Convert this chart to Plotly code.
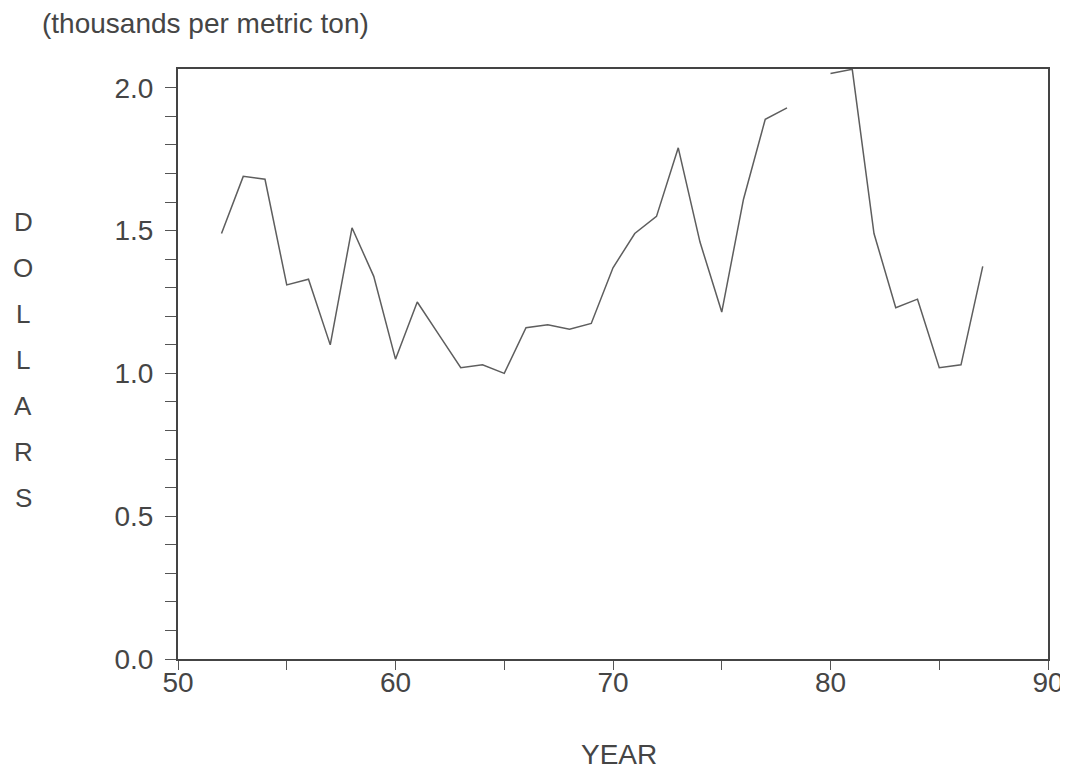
import plotly.graph_objects as go

years = list(range(52, 88))
dollars = [1.49, 1.69, 1.68, 1.31, 1.33, 1.10, 1.51, 1.34, 1.05, 1.25,
           1.135, 1.02, 1.03, 1.00, 1.16, 1.17, 1.155, 1.175, 1.37, 1.49,
           1.55, 1.79, 1.46, 1.215, 1.61, 1.89, 1.93, None, 2.05, 2.065,
           1.49, 1.23, 1.26, 1.02, 1.03, 1.375]

y_title_letters = list("DOLLARS")
title_text = "(thousands per metric ton)"
x_title = "YEAR"

FONT = "Liberation Sans, Arial, Helvetica, sans-serif"
TXT = "#454545"

# page body has an 8px margin
OFF = 8
W, H = 1068, 774 - OFF
L, T = 178 - OFF, 69 - OFF
plot_right, plot_bottom = 1048 - OFF, 659 - OFF
R, B = W - plot_right, H - plot_bottom
pw, ph = plot_right - L, plot_bottom - T


def paper(sx, sy):
    return (sx - OFF - L) / pw, (plot_bottom - (sy - OFF)) / ph


fig = go.Figure()
fig.add_trace(go.Scatter(x=years, y=dollars, mode="lines",
                         line=dict(color="#5e5e5e", width=1.5),
                         connectgaps=False, showlegend=False))

fig.update_layout(
    width=W, height=H,
    margin=dict(l=L, r=R, t=T, b=B, autoexpand=False),
    paper_bgcolor="white", plot_bgcolor="white",
    font=dict(family=FONT, size=28, color=TXT),
    xaxis=dict(range=[50, 90], dtick=10, tick0=50, ticks="outside", ticklen=9,
               tickwidth=1.2, tickcolor="#555", showgrid=False, zeroline=False,
               showline=True, linecolor="#444", linewidth=2, mirror=True,
               automargin=False, ticklabeloverflow="allow",
               tickfont=dict(size=28, color=TXT), ticklabelstandoff=-12,
               minor=dict(dtick=5, tick0=50, ticks="outside", ticklen=9,
                          tickcolor="#555", tickwidth=1.2, showgrid=False)),
    yaxis=dict(range=[0, 2.066], dtick=0.5, tick0=0, ticks="outside", ticklen=11,
               tickwidth=1.2, tickcolor="#555", showgrid=False, zeroline=False,
               showline=True, linecolor="#444", linewidth=2, mirror=True,
               automargin=False,
               tickformat=".1f", ticklabelstandoff=6,
               tickfont=dict(size=28, color=TXT),
               minor=dict(dtick=0.1, tick0=0, ticks="outside", ticklen=11,
                          tickcolor="#555", tickwidth=1.2, showgrid=False)),
)

annotations = []
tx, ty = paper(40, 24)
annotations.append(dict(text=title_text, xref="paper", yref="paper",
                        x=tx, y=ty, xanchor="left", yanchor="middle",
                        showarrow=False, font=dict(size=28, color=TXT)))
yx, yy = paper(619, 754)
annotations.append(dict(text=x_title, xref="paper", yref="paper",
                        x=yx, y=yy, xanchor="center", yanchor="middle",
                        showarrow=False, font=dict(size=28, color=TXT)))
for i, ch in enumerate(y_title_letters):
    lx, ly = paper(23, 222 + 46 * i)
    annotations.append(dict(text=ch, xref="paper", yref="paper",
                            x=lx, y=ly, xanchor="center", yanchor="middle",
                            showarrow=False, font=dict(size=26, color=TXT)))
fig.update_layout(annotations=annotations)

fig.write_html("out.html")
